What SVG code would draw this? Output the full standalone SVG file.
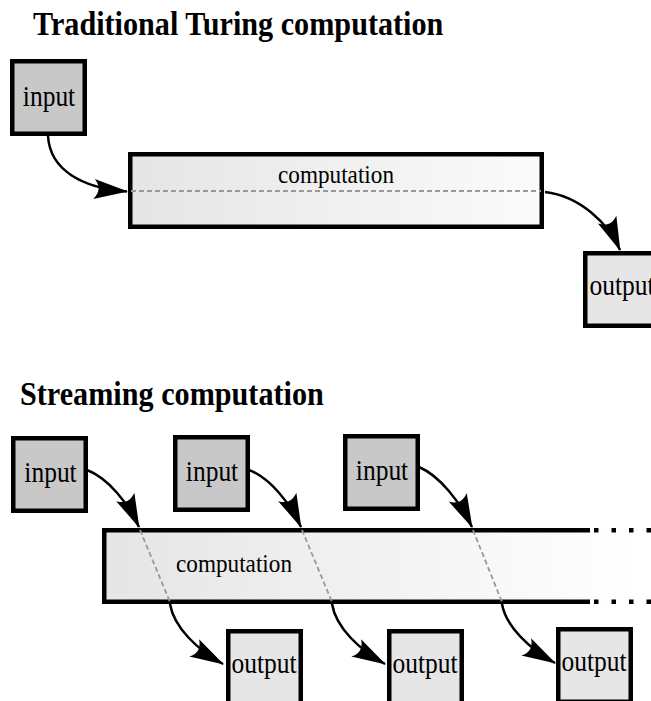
<svg xmlns="http://www.w3.org/2000/svg" width="651" height="701" viewBox="0 0 651 701">
<style>
.title{font-family:"Liberation Serif","Times New Roman",serif;font-weight:bold;font-size:30.2px;fill:#000}
.lbl{font-family:"Liberation Serif","Times New Roman",serif;font-size:25.5px;fill:#000;text-anchor:middle}
.clbl{font-family:"Liberation Serif","Times New Roman",serif;font-size:23.2px;fill:#000;text-anchor:middle}
.in{fill:#c8c8c8;stroke:#000;stroke-width:4.5}
.out{fill:#e6e6e6;stroke:#000;stroke-width:4.5}
.edge{fill:none;stroke:#000;stroke-width:2.5;marker-end:url(#arr)}
.flow{fill:none;stroke:#999;stroke-width:1.8;stroke-dasharray:5 3}
.band{fill:none;stroke:#000;stroke-width:4.5}
</style>
<defs>
<marker id="arr" markerUnits="userSpaceOnUse" orient="auto" refX="0" refY="0" markerWidth="40" markerHeight="30" overflow="visible">
<path d="M1,0 L-33,-10 C-27,-3 -27,3 -33,10 Z" fill="#000"/>
</marker>
<linearGradient id="g1" gradientUnits="userSpaceOnUse" x1="130" y1="0" x2="542" y2="0">
<stop offset="0" stop-color="#e5e5e5"/><stop offset="1" stop-color="#fbfbfb"/>
</linearGradient>
<linearGradient id="g2" gradientUnits="userSpaceOnUse" x1="104" y1="0" x2="640" y2="0">
<stop offset="0" stop-color="#e5e5e5"/><stop offset="1" stop-color="#ffffff"/>
</linearGradient>
</defs>

<text class="title" transform="translate(33,35) scale(1,1.12)">Traditional Turing computation</text>
<text class="title" transform="translate(20,405) scale(1,1.12)">Streaming computation</text>

<!-- Traditional -->
<g id="t-input">
<rect class="in" x="12.25" y="61.25" width="72.5" height="72.5"/>
<text class="lbl" transform="translate(49,106) scale(1,1.12)">input</text>
</g>
<g id="t-computation">
<rect x="130.25" y="154.25" width="411.5" height="72.5" fill="url(#g1)" stroke="#000" stroke-width="4.5"/>
<text class="clbl" transform="translate(336,182.5) scale(1,1.12)">computation</text>
<line class="flow" x1="131" y1="191" x2="541" y2="191"/>
</g>
<g id="t-output">
<rect class="out" x="585.25" y="253.25" width="72.5" height="72.5"/>
<text class="lbl" transform="translate(622,295) scale(1,1.12)">output</text>
</g>

<!-- Streaming -->
<g id="s-computation">
<rect x="104" y="530" width="547" height="72" fill="url(#g2)"/>
<path class="band" d="M590,530.25 H104.25 V601.75 H590"/>
<path class="band" d="M594,530.25 H651 M594,601.75 H651" stroke-dasharray="4.5 13"/>
<text class="clbl" transform="translate(234,571.5) scale(1,1.12)">computation</text>
<line class="flow" x1="140" y1="530" x2="170" y2="602" stroke-width="1.5" stroke-dasharray="4 3"/>
<line class="flow" x1="302" y1="530" x2="332" y2="602" stroke-width="1.5" stroke-dasharray="4 3"/>
<line class="flow" x1="473" y1="530" x2="502" y2="602" stroke-width="1.5" stroke-dasharray="4 3"/>
</g>
<g id="s-input-1">
<rect class="in" x="13.25" y="438.25" width="72.5" height="72.5"/>
<text class="lbl" transform="translate(50.5,481.5) scale(1,1.12)">input</text>
</g>
<g id="s-input-2">
<rect class="in" x="175.25" y="437.25" width="72.5" height="72.5"/>
<text class="lbl" transform="translate(212,481) scale(1,1.12)">input</text>
</g>
<g id="s-input-3">
<rect class="in" x="345.25" y="436.25" width="72.5" height="72.5"/>
<text class="lbl" transform="translate(382,480) scale(1,1.12)">input</text>
</g>
<g id="s-output-1">
<rect class="out" x="228.25" y="631.25" width="72.5" height="72.5"/>
<text class="lbl" transform="translate(264,673) scale(1,1.12)">output</text>
</g>
<g id="s-output-2">
<rect class="out" x="389.25" y="631.25" width="72.5" height="72.5"/>
<text class="lbl" transform="translate(425,673) scale(1,1.12)">output</text>
</g>
<g id="s-output-3">
<rect class="out" x="558.25" y="629.25" width="72.5" height="72.5"/>
<text class="lbl" transform="translate(594,671) scale(1,1.12)">output</text>
</g>

<g id="connectors">
<path class="edge" d="M48,136 C50,170 82,188 127,191.5"/>
<path class="edge" d="M545,192 C580,196 609,224 620,250"/>
<path class="edge" d="M87,470 C108,478 128,503 139,527"/>
<path class="edge" d="M249,470 C270,478 290,503 301,527"/>
<path class="edge" d="M419,467 C440,476 460,502 472,527"/>
<path class="edge" d="M170,604 C174,628 198,650 223,664"/>
<path class="edge" d="M332,604 C336,628 360,650 385,664"/>
<path class="edge" d="M502,604 C506,627 530,649 555,663"/>
</g>
</svg>
